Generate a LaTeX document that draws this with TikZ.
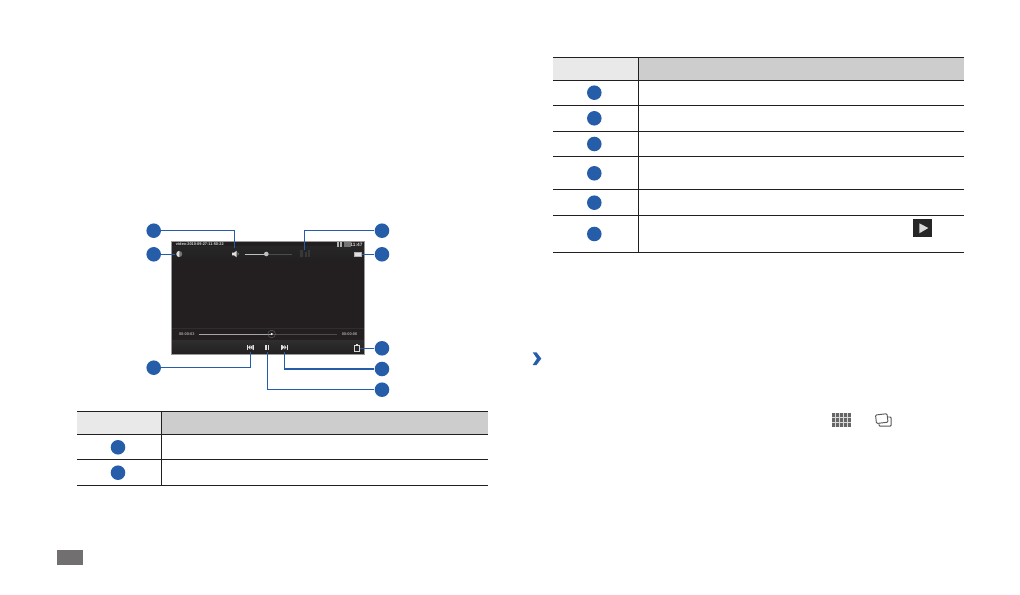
\documentclass[tikz,border=0pt]{standalone}
\usepackage{fontspec}
\setmainfont{Liberation Sans}
\definecolor{numblue}{HTML}{255DA9}
\definecolor{rulegray}{HTML}{231F20}
\definecolor{headlight}{HTML}{E9E9E9}
\definecolor{headdark}{HTML}{CDCDCD}
\definecolor{pagegray}{HTML}{716F70}
\definecolor{screenblack}{HTML}{231F20}
\tikzset{
    numdot/.style={circle,fill=numblue,minimum size=10.9pt,inner sep=0pt},
    callline/.style={draw=numblue,line width=0.95pt},
    tablerule/.style={draw=rulegray,line width=0.8pt},
    screentext/.style={text=white!85!black,inner sep=0pt,font=\fontsize{2.9}{4}\bfseries\selectfont},
    iconfill/.style={fill=white!88!black,draw=none},
}

\begin{document}
\begin{tikzpicture}[x=0.75pt,y=-0.75pt]

            \useasboundingbox[fill=white] (0,0) rectangle (1020,595);

            % screen
            \fill[screenblack] (171.3,241.3) rectangle (364.7,354.7);
            \fill[top color=black!85!white,bottom color=screenblack] (171.3,246.7) rectangle (364.7,261);
            \draw[draw=white!18!black,line width=0.2pt] (171.3,328) -- (364.7,328);
            \shade[top color=white!18!black,bottom color=screenblack] (171.3,340) rectangle (364.7,354.7);
            \draw[draw=white!60!black,line width=0.9pt] (171.3,241.3) rectangle (364.7,354.7);

            % top of screen
            \node[screentext,anchor=west] (filename) at (175.7,244.6) {video-2010-09-27-11-50-22};
            \node[screentext,anchor=east,font=\fontsize{3.6}{4}\bfseries\selectfont] (clock) at (362.7,244.6) {11:47};
            \fill[white!70!black] (336.7,242.5) rectangle (338.7,247);
            \fill[white!70!black] (339.7,242.5) rectangle (341.7,247);
            \fill[white!45!black] (344,242.5) rectangle (350.7,247);
            \fill[white!45!black] (179.3,254) circle (3);
            \fill[iconfill] (179.3,257) arc (90:270:3) -- cycle;
            \fill[iconfill] (232,252.7) -- (234,252.7) -- (236.5,250.8) -- (236.5,257.2) -- (234,255.3) -- (232,255.3) -- cycle;
            \draw[white!70!black,line width=0.4pt] (237.7,252.5) arc (-45:45:2);
            \draw[white!75!black,line width=0.7pt] (244.7,254) -- (266.3,254);
            \draw[white!30!black,line width=0.4pt] (266.3,254) -- (291.7,254);
            \fill[white!75!black] (266.3,254) circle (2.3);
            \fill[white!22!black] (300,250.5) rectangle (303,257);
            \fill[white!22!black] (304.5,252) rectangle (306.5,257);
            \fill[white!22!black] (307.5,250.5) rectangle (310,257);
            \draw[iconfill,draw=white!70!black,line width=0.4pt] (354.5,251.8) rectangle (361,256.3);

            % seek bar
            \node[screentext,text=white!65!black] (timeleft) at (186.8,334) {00:00:03};
            \node[screentext,text=white!65!black] (timeright) at (349.5,334) {00:00:06};
            \draw[white!65!black,line width=0.7pt] (199.3,334) -- (271.7,334);
            \draw[white!30!black,line width=0.4pt] (271.7,334) -- (336.7,334);
            \draw[white!40!black,line width=0.3pt] (271.7,334) circle (3.8);
            \fill[white] (271.7,334) circle (1.1);

            % bottom buttons
            \fill[iconfill] (247.3,345) rectangle (248.1,349.6);
            \fill[iconfill] (252.5,345) rectangle (253.3,349.6);
            \fill[iconfill] (248.1,347.3) -- (250.3,345) -- (250.3,349.6) -- cycle;
            \fill[iconfill] (250.3,347.3) -- (252.5,345) -- (252.5,349.6) -- cycle;
            \fill[iconfill] (265.3,344.8) rectangle (266.7,349.8);
            \fill[iconfill] (268,344.8) rectangle (269.4,349.8);
            \fill[iconfill] (281.3,345) rectangle (282.1,349.6);
            \fill[iconfill] (286.5,345) rectangle (287.3,349.6);
            \fill[iconfill] (284.3,347.3) -- (282.1,345) -- (282.1,349.6) -- cycle;
            \fill[iconfill] (286.5,347.3) -- (284.3,345) -- (284.3,349.6) -- cycle;
            \draw[white!85!black,line width=0.6pt] (354.6,345) rectangle (359.4,351.6);
            \fill[iconfill] (355.8,344.3) rectangle (358.2,346.2);

            % numbered dots round the screen
            \node[numdot] (volumedot) at (153.7,230.7) {};
            \node[numdot] (brightdot) at (153.7,254.3) {};
            \node[numdot] (prevdot) at (153.7,367.7) {};
            \node[numdot] (effectdot) at (382,230.7) {};
            \node[numdot] (ratiodot) at (382,254.3) {};
            \node[numdot] (carddot) at (382,348.3) {};
            \node[numdot] (nextdot) at (382,369) {};
            \node[numdot] (pausedot) at (382,389.7) {};

            \coordinate (volumeend) at (234.7,248.3);
            \coordinate (brightend) at (175.3,254.3);
            \coordinate (prevend) at (250.3,351.7);
            \coordinate (effectend) at (304.3,250);
            \coordinate (ratioend) at (361.7,254.3);
            \coordinate (cardend) at (360,348.3);
            \coordinate (nextend) at (284.3,351.7);
            \coordinate (pauseend) at (267.3,351.7);

            \draw[callline] (volumedot) -| (volumeend);
            \draw[callline] (brightdot) -- (brightend);
            \draw[callline] (prevdot) -| (prevend);
            \draw[callline] (effectdot) -| (effectend);
            \draw[callline] (ratiodot) -- (ratioend);
            \draw[callline] (carddot) -- (cardend);
            \draw[callline] (nextdot) -| (nextend);
            \draw[callline] (pausedot) -| (pauseend);

            % left table
            \fill[headlight] (77,411.3) rectangle (161.3,434.3);
            \fill[headdark] (161.3,411.3) rectangle (488,434.3);
            \draw[tablerule] (77,411.3) -- (488,411.3);
            \draw[tablerule] (77,434.3) -- (488,434.3);
            \draw[tablerule] (77,459.3) -- (488,459.3);
            \draw[tablerule] (77,485.3) -- (488,485.3);
            \draw[tablerule] (161.3,411.3) -- (161.3,485.3);
            \node[numdot] (leftdota) at (118,447.3) {};
            \node[numdot] (leftdotb) at (118,472.7) {};

            % right table
            \fill[headlight] (553,57.3) rectangle (638.3,80.3);
            \fill[headdark] (638.3,57.3) rectangle (964,80.3);
            \draw[tablerule] (553,57.3) -- (964,57.3);
            \draw[tablerule] (553,80.3) -- (964,80.3);
            \draw[tablerule] (553,105.3) -- (964,105.3);
            \draw[tablerule] (553,131.3) -- (964,131.3);
            \draw[tablerule] (553,156.3) -- (964,156.3);
            \draw[tablerule] (553,189.3) -- (964,189.3);
            \draw[tablerule] (553,215.3) -- (964,215.3);
            \draw[tablerule] (553,252.3) -- (964,252.3);
            \draw[tablerule] (638.3,57.3) -- (638.3,252.3);
            \node[numdot] (rightdota) at (594.3,92.7) {};
            \node[numdot] (rightdotb) at (594.3,118.3) {};
            \node[numdot] (rightdotc) at (594.3,144) {};
            \node[numdot] (rightdotd) at (594.3,173.3) {};
            \node[numdot] (rightdote) at (594.3,202.7) {};
            \node[numdot] (rightdotf) at (594.3,234) {};

            % play button in the last row
            \fill[black!85!white] (913,219) rectangle (932,237);
            \fill[white!85!black] (919.3,223.3) -- (928.3,228) -- (919.3,233.3) -- cycle;

            % chevron
            \fill[numblue] (532.7,352.3) -- (536.5,352.3) -- (541.3,358.6) -- (536.5,365) -- (532.7,365) -- (537,358.6) -- cycle;

            % grid and album icons
            \fill[white!40!black] (831.7,412.7) rectangle (850.7,426.7);
            \draw[white!85!black,line width=0.3pt] (835.5,412.7) -- (835.5,426.7) (839.3,412.7) -- (839.3,426.7) (843.1,412.7) -- (843.1,426.7) (846.9,412.7) -- (846.9,426.7);
            \draw[white!85!black,line width=0.3pt] (831.7,417.4) -- (850.7,417.4) (831.7,422) -- (850.7,422);
            \draw[white!35!black,line width=0.7pt,rounded corners=0.8pt] (879,417) rectangle (891.2,426.2);
            \draw[white!35!black,fill=white,line width=0.7pt,rounded corners=0.8pt] (875.5,415) -- (887,413.7) -- (888,422.2) -- (876.5,423.5) -- cycle;

            % page number box
            \fill[pagegray] (57,550) rectangle (83,565);

        \end{tikzpicture}
\end{document}
